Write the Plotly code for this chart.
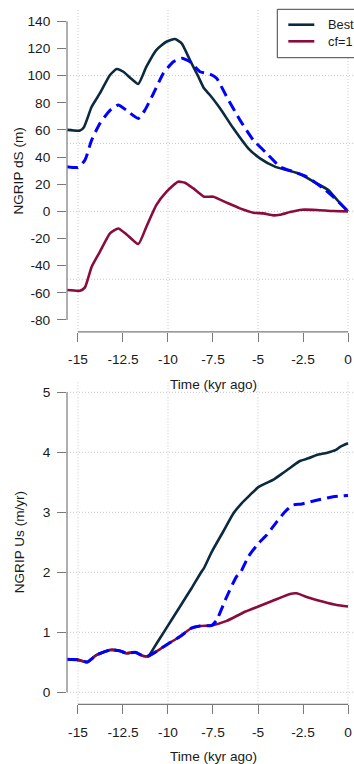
import plotly.graph_objects as go

# ---------------- data ----------------
# Top panel: NGRIP dS (m)
t_best_ds = [-15.6, -14.89, -14.67, -14.24, -13.78, -13.22, -12.85, -12.48, -12.02, -11.65,
             -11.2, -10.65, -10.09, -9.61, -9.24, -8.78, -8.31, -8.0, -7.67, -7.11,
             -6.37, -5.54, -4.89, -4.06, -3.41, -2.67, -1.74, -1.09, -0.63, 0.0]
best_ds = [60, 59.5, 62, 77, 87, 100.4, 104.8, 102.8, 97.4, 93.8,
           106.5, 118.8, 124.9, 126.9, 123.7, 111.4, 99.1, 90.6, 85.7, 75.9,
           61.1, 46.4, 39.0, 32.9, 30.4, 27.5, 20.6, 15.7, 8.8, 0]

t_cf1_ds = [-15.6, -14.89, -14.61, -14.24, -13.78, -13.22, -12.76, -12.3, -11.65, -11.2,
            -10.65, -10.09, -9.44, -9.06, -8.59, -8.0, -7.48, -6.74, -6.0, -5.26,
            -4.7, -4.15, -3.78, -3.22, -2.57, -1.74, -0.83, 0.0]
cf1_ds = [-58.0, -58.5, -56, -40.8, -29.7, -16.2, -12.6, -17, -24.1, -11.3,
          4.6, 14.4, 21.8, 21.1, 16.9, 10.8, 10.8, 6.4, 2.2, -1,
          -1.5, -3, -2.5, -0.5, 1.2, 1.0, 0.2, 0]

t_alt_ds = [-15.6, -15.0, -14.61, -14.24, -13.78, -13.22, -12.76, -12.3, -11.65, -11.28,
            -10.8, -10.26, -9.7, -9.24, -8.78, -8.22, -7.67, -7.3, -6.74, -6.0,
            -5.26, -4.52, -3.78, -3.04, -2.3, -1.37, -0.83, 0.0]
alt_ds = [32.9, 32.4, 37.8, 52.5, 64.8, 74.4, 78.3, 74.4, 68.4, 74.6,
          87, 101.6, 110.2, 112.7, 110.2, 102.8, 101.1, 98, 84.4, 67.2,
          52.5, 42.7, 32.9, 29.2, 25.5, 16.9, 10.8, 0]

# Bottom panel: NGRIP Us (m/yr)
t_best_us = [-15.6, -15.0, -14.48, -13.98, -13.22, -12.67, -12.3, -11.83, -11.37, -11.09,
             -10.65, -10.09, -9.33, -8.7, -8.14, -8.0, -7.57, -6.93, -6.37, -5.91,
             -5.44, -4.98, -4.52, -4.11, -3.59, -3.13, -2.67, -2.2, -1.74, -1.19,
             -0.67, -0.44, 0.0]
best_us = [0.55, 0.54, 0.505, 0.62, 0.705, 0.69, 0.65, 0.667, 0.605, 0.605,
           0.805, 1.07, 1.43, 1.73, 2.01, 2.07, 2.34, 2.68, 2.98, 3.15,
           3.29, 3.42, 3.49, 3.55, 3.66, 3.76, 3.855, 3.9, 3.955, 3.99,
           4.04, 4.09, 4.15]

t_cf1_us = [-15.6, -15.0, -14.48, -13.98, -13.22, -12.67, -12.3, -11.83, -11.37, -11.09,
            -10.65, -10.09, -9.33, -8.7, -8.22, -7.57, -6.74, -5.81, -4.98, -4.15,
            -3.22, -2.85, -2.3, -1.37, -0.63, 0.0]
cf1_us = [0.55, 0.54, 0.505, 0.62, 0.705, 0.69, 0.65, 0.667, 0.605, 0.605,
          0.68, 0.79, 0.93, 1.07, 1.105, 1.115, 1.19, 1.33, 1.43, 1.53,
          1.64, 1.65, 1.59, 1.51, 1.455, 1.43]

t_alt_us = [-15.6, -15.0, -14.48, -13.98, -13.22, -12.67, -12.3, -11.83, -11.37, -11.09,
            -10.65, -10.09, -9.33, -8.7, -8.22, -7.57, -7.3, -6.74, -6.19, -6.0,
            -5.54, -4.98, -4.52, -3.96, -3.5, -3.07, -2.57, -1.74, -0.83, 0.0]
alt_us = [0.55, 0.54, 0.505, 0.62, 0.705, 0.69, 0.65, 0.667, 0.605, 0.605,
          0.68, 0.79, 0.93, 1.07, 1.105, 1.115, 1.2, 1.59, 1.93, 1.98,
          2.26, 2.48, 2.62, 2.84, 3.01, 3.12, 3.14, 3.2, 3.26, 3.28]

# ticks / grid
x_ticks = [-15, -12.5, -10, -7.5, -5, -2.5, 0]
x_ticklabels = ["-15", "-12.5", "-10", "-7.5", "-5", "-2.5", "0"]
ds_ticks = [-80, -60, -40, -20, 0, 20, 40, 60, 80, 100, 120, 140]
ds_ticklabels = ["-80", "-60", "-40", "-20", "0", "20", "40", "60", "80", "100", "120", "140"]
us_ticks = [0, 1, 2, 3, 4, 5]
us_ticklabels = ["0", "1", "2", "3", "4", "5"]
x_grid = [-15, -10, -5, 0]
ds_grid = [-50, 0, 50, 100]
us_grid = [0, 1, 2, 3, 4, 5]

legend_names = ["Best", "cf=1"]

# ---------------- styling ----------------
W, H = 354, 764
PLOT_LEFT = 67               # page px of plot-area left edge
ML = PLOT_LEFT
PW = W - ML
COL_BEST = "#0B2A40"
COL_CF1 = "#8A0C3E"
COL_ALT = "#0000FF"
AXIS_COL = "#7a7a7a"
GRID_COL = "#c8c8c8"
TXT = "#1a1a1a"
FONT = "Liberation Sans, Arial, Helvetica, sans-serif"
TICK_SIZE = 13.7
TITLE_SIZE = 13.6
LEG_SIZE = 12.8


def py(p):
    """page pixel y -> paper fraction"""
    return (H - p) / H


def pxp(p):
    """page pixel x -> paper fraction"""
    return (p - PLOT_LEFT) / PW


fig = go.Figure()


def add(x, y, color, width, dash, xa, ya):
    fig.add_trace(go.Scatter(
        x=x, y=y, mode="lines",
        line=dict(color=color, width=width, dash=dash, shape="spline", smoothing=0.5),
        xaxis=xa, yaxis=ya, showlegend=False, hoverinfo="skip"))


add(t_best_ds, best_ds, COL_BEST, 2.6, "solid", "x", "y")
add(t_cf1_ds, cf1_ds, COL_CF1, 2.6, "solid", "x", "y")
add(t_alt_ds, alt_ds, COL_ALT, 3, "11px,6px", "x", "y")
add(t_best_us, best_us, COL_BEST, 2.6, "solid", "x2", "y2")
add(t_cf1_us, cf1_us, COL_CF1, 2.6, "solid", "x2", "y2")
add(t_alt_us, alt_us, COL_ALT, 3, "11px,6px", "x2", "y2")

xrange = [-15.61, 0.333]

common_x = dict(range=xrange, domain=[0, 1], tickmode="array", tickvals=x_ticks,
                ticktext=x_ticklabels, ticks="outside", ticklen=9, tickwidth=1,
                tickcolor=AXIS_COL, showgrid=False, zeroline=False, showline=False,
                tickfont=dict(size=TICK_SIZE, color=TXT, family=FONT), ticklabelstandoff=6)
common_y = dict(ticks="outside", ticklen=9, tickwidth=1, tickcolor=AXIS_COL,
                showgrid=False, zeroline=False, showline=False, tickmode="array",
                tickfont=dict(size=TICK_SIZE, color=TXT, family=FONT), ticklabelstandoff=4)

fig.update_layout(
    width=W, height=H, autosize=False,
    margin=dict(l=ML, r=0, t=0, b=0, pad=0),
    paper_bgcolor="white", plot_bgcolor="white",
    font=dict(family=FONT, size=14, color=TXT),
    xaxis=dict(anchor="y", **common_x),
    yaxis=dict(anchor="x", domain=[py(331.9), py(9.3)], range=[-88.8, 148.8],
               tickvals=ds_ticks, ticktext=ds_ticklabels, **common_y),
    xaxis2=dict(anchor="y2", **common_x),
    yaxis2=dict(anchor="x2", domain=[py(704.3), py(380.3)], range=[-0.2, 5.2],
                tickvals=us_ticks, ticktext=us_ticklabels, **common_y),
    showlegend=False,
)

shapes = []
grid_line = dict(color=GRID_COL, width=1, dash="1px,2px")
for xa, ya, ygrid, yt in [("x", "y", ds_grid, ds_ticks), ("x2", "y2", us_grid, us_ticks)]:
    for g in x_grid:
        shapes.append(dict(type="line", xref=xa, yref=ya + " domain", x0=g, x1=g, y0=0, y1=1,
                           line=grid_line, layer="below"))
    for g in ygrid:
        shapes.append(dict(type="line", xref=xa + " domain", yref=ya, x0=0, x1=1, y0=g, y1=g,
                           line=grid_line, layer="below"))
    # R-style axis lines spanning first..last tick
    shapes.append(dict(type="line", xref=xa, yref=ya + " domain", x0=x_ticks[0], x1=x_ticks[-1],
                       y0=0, y1=0, line=dict(color=AXIS_COL, width=1.2), layer="above"))
    shapes.append(dict(type="line", xref=xa + " domain", yref=ya, x0=0, x1=0, y0=yt[0], y1=yt[-1],
                       line=dict(color=AXIS_COL, width=1.2), layer="above"))

# legend box (top-right, partly cut off like the original)
shapes.append(dict(type="rect", xref="paper", yref="paper", x0=pxp(277.3), x1=pxp(362),
                   y0=py(57.7), y1=py(9.3), line=dict(color="#444444", width=1),
                   fillcolor="white", layer="above"))
for name, col, yy in [(legend_names[0], COL_BEST, 24.7), (legend_names[1], COL_CF1, 41.3)]:
    shapes.append(dict(type="line", xref="paper", yref="paper", x0=pxp(288.3), x1=pxp(314.3),
                       y0=py(yy), y1=py(yy), line=dict(color=col, width=2.6), layer="above"))

annotations = []
for name, yy in [(legend_names[0], 24.7), (legend_names[1], 41.3)]:
    annotations.append(dict(text=name, xref="paper", yref="paper", x=pxp(325.5), y=py(yy),
                            xanchor="left", yanchor="middle", showarrow=False,
                            font=dict(size=LEG_SIZE, color=TXT, family=FONT)))
annotations.append(dict(text="NGRIP dS (m)", xref="paper", yref="paper", x=pxp(19), y=py(170.6),
                        textangle=-90, xanchor="center", yanchor="middle", showarrow=False,
                        font=dict(size=TITLE_SIZE, color=TXT, family=FONT)))
annotations.append(dict(text="NGRIP Us (m/yr)", xref="paper", yref="paper", x=pxp(19), y=py(542.3),
                        textangle=-90, xanchor="center", yanchor="middle", showarrow=False,
                        font=dict(size=TITLE_SIZE, color=TXT, family=FONT)))
annotations.append(dict(text="Time (kyr ago)", xref="paper", yref="paper", x=pxp(213), y=py(384.3),
                        xanchor="center", yanchor="middle", showarrow=False,
                        font=dict(size=TITLE_SIZE, color=TXT, family=FONT)))
annotations.append(dict(text="Time (kyr ago)", xref="paper", yref="paper", x=pxp(213), y=py(756.7),
                        xanchor="center", yanchor="middle", showarrow=False,
                        font=dict(size=TITLE_SIZE, color=TXT, family=FONT)))

fig.update_layout(shapes=shapes, annotations=annotations)

# remove the default page margin / scrollbars so the 354x764 figure fills the window
page_js = ("document.body.style.margin='0';document.body.style.padding='0';"
           "document.body.style.overflow='hidden';"
           "document.documentElement.style.overflow='hidden';")
fig.write_html("out.html", post_script=page_js,
               config={"displayModeBar": False, "staticPlot": True})
